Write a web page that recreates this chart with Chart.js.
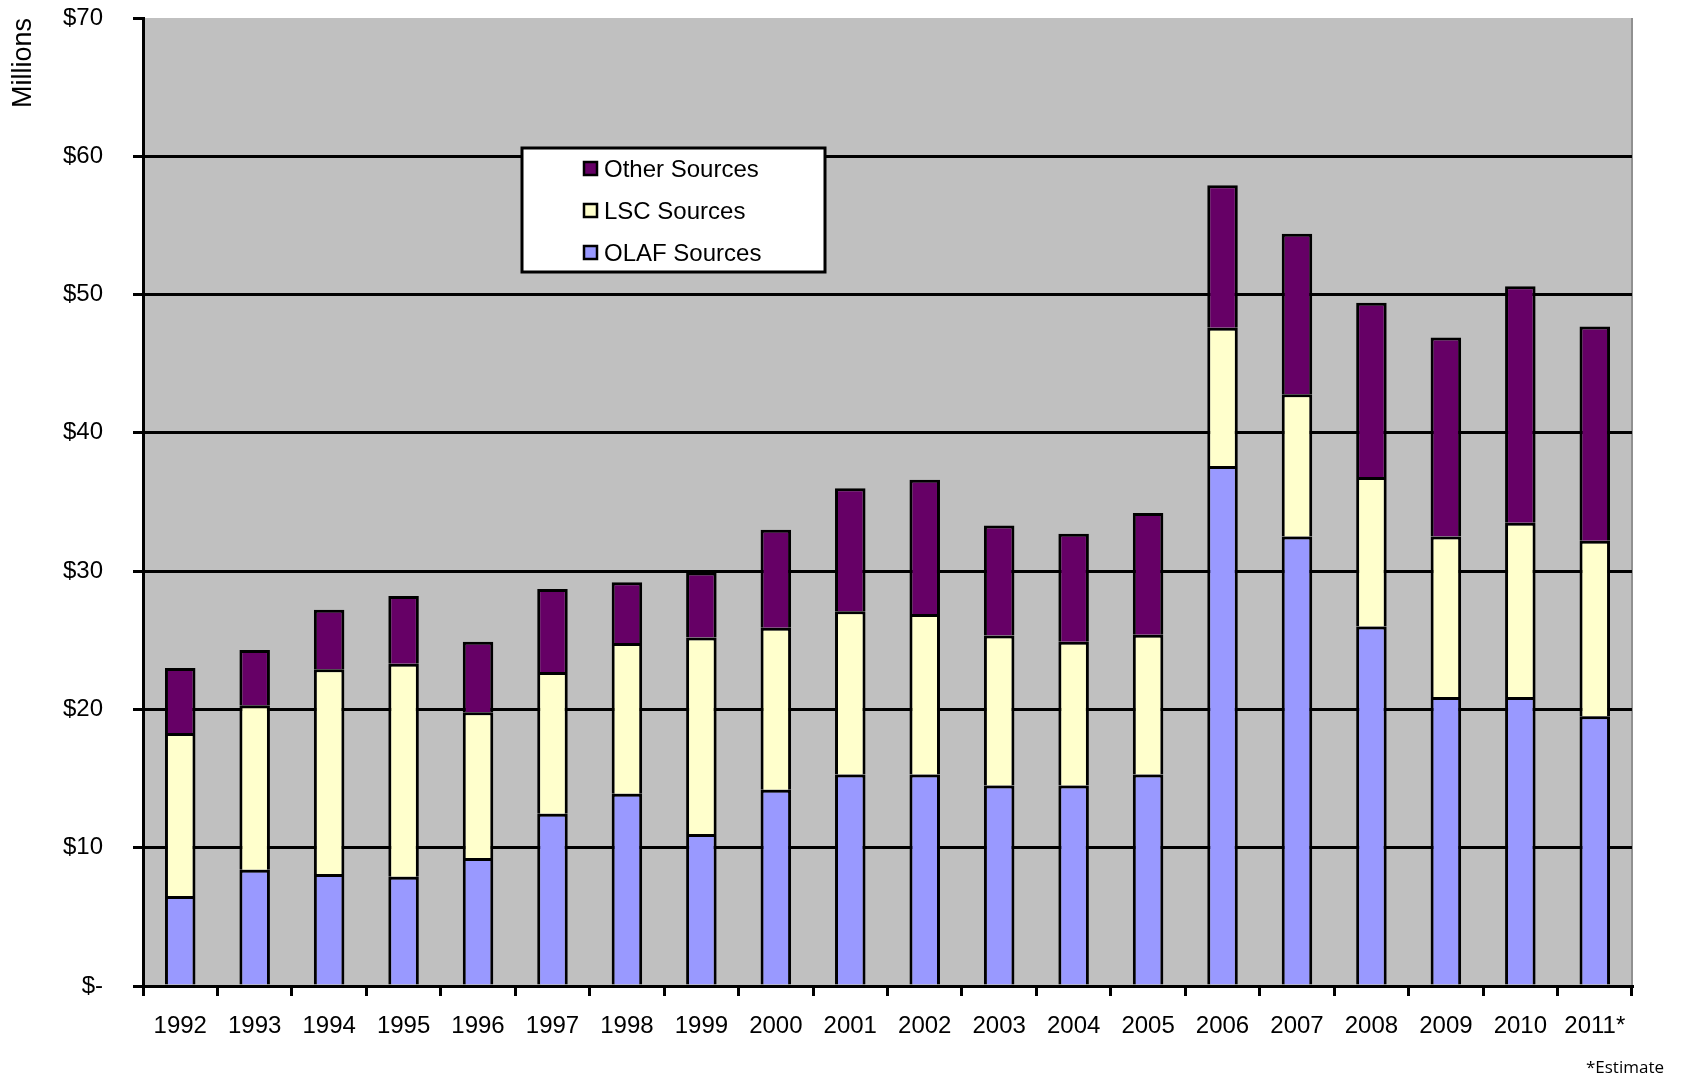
<!DOCTYPE html>
<html>
<head>
<meta charset="utf-8">
<script src="https://cdn.jsdelivr.net/npm/chart.js@4.4.0/dist/chart.umd.min.js"></script>
<style>
html, body { margin: 0; padding: 0; background: #fff; }
#wrap { width: 1683px; height: 1078px; position: relative; }
</style>
</head>
<body>
<div id="wrap"><canvas id="grafico"></canvas></div>
<script>
// years on the x axis
var years = ['1992', '1993', '1994', '1995', '1996', '1997', '1998', '1999', '2000', '2001',
             '2002', '2003', '2004', '2005', '2006', '2007', '2008', '2009', '2010', '2011*'];
// funding by source, millions of dollars (stacked segments)
var olafSources = [6.5, 8.4, 8.1, 7.9, 9.25, 12.45, 13.9, 11.0, 14.2, 15.3,
                   15.3, 14.5, 14.5, 15.3, 37.6, 32.5, 26.0, 20.9, 20.9, 19.5];
var lscSources = [11.8, 11.9, 14.8, 15.4, 10.55, 10.25, 10.9, 14.2, 11.7, 11.8,
                  11.6, 10.85, 10.4, 10.1, 10.0, 10.3, 10.8, 11.6, 12.6, 12.7];
var otherSources = [4.7, 4.0, 4.3, 4.9, 5.1, 6.0, 4.4, 4.7, 7.1, 8.9,
                    9.7, 7.95, 7.8, 8.8, 10.3, 11.6, 12.6, 14.4, 17.1, 15.5];

var fonte = 'Liberation Sans, Arial, sans-serif';

// gray plot background + thin right border
var fundoCinza = {
    id: 'fundoCinza',
    beforeDraw: function (chart) {
        var a = chart.chartArea, c = chart.ctx;
        c.save();
        c.fillStyle = '#c0c0c0';
        c.fillRect(a.left, a.top, a.right - a.left, a.bottom - a.top);
        c.strokeStyle = '#909090';
        c.lineWidth = 2;
        c.beginPath();
        c.moveTo(a.right, a.top);
        c.lineTo(a.right, a.bottom);
        c.stroke();
        c.restore();
    }
};

// legend box inside the plot, plus the footnote
var legendaCaixa = {
    id: 'legendaCaixa',
    afterDraw: function (chart) {
        var c = chart.ctx;
        var ds = chart.data.datasets.slice().reverse();
        c.save();
        c.fillStyle = '#fff';
        c.fillRect(522, 148, 303, 124);
        c.strokeStyle = '#000';
        c.lineWidth = 3;
        c.strokeRect(522, 148, 303, 124);
        c.font = '24px ' + fonte;
        c.textBaseline = 'middle';
        c.textAlign = 'left';
        for (var i = 0; i < ds.length; i++) {
            var y = 169 + i * 42;
            c.fillStyle = ds[i].backgroundColor;
            c.fillRect(584, y - 7, 13, 13);
            c.lineWidth = 2.5;
            c.strokeRect(584, y - 7, 13, 13);
            c.fillStyle = '#000';
            c.fillText(ds[i].label, 604, y + 1);
        }
        c.font = '17px "Open Sans", sans-serif';
        c.textAlign = 'right';
        c.textBaseline = 'alphabetic';
        c.fillText('*Estimate', 1664, 1073);
        c.restore();
    }
};

var ctx = document.getElementById('grafico');
var grafico = new Chart(ctx, {
    type: 'bar',
    data: {
        labels: years,
        datasets: [{
            label: 'OLAF Sources',
            data: olafSources,
            backgroundColor: '#9999ff'
        }, {
            label: 'LSC Sources',
            data: lscSources,
            backgroundColor: '#ffffcc'
        }, {
            label: 'Other Sources',
            data: otherSources,
            backgroundColor: '#660066'
        }]
    },
    options: {
        responsive: true,
        maintainAspectRatio: false,
        animation: false,
        layout: { padding: { top: 18, right: 51, left: 0, bottom: 0 } },
        datasets: {
            bar: {
                borderColor: '#000',
                borderWidth: 3,
                borderSkipped: 'start',
                categoryPercentage: 1,
                barPercentage: 0.41
            }
        },
        plugins: {
            legend: { display: false },
            tooltip: { enabled: false }
        },
        scales: {
            x: {
                stacked: true,
                afterFit: function (s) { s.height = 92; },
                border: { color: '#000', width: 3 },
                grid: {
                    offset: true,
                    drawOnChartArea: false,
                    color: '#000',
                    lineWidth: 3,
                    tickLength: 10
                },
                ticks: {
                    color: '#000',
                    padding: 16,
                    maxRotation: 0,
                    font: { family: fonte, size: 24 }
                }
            },
            y: {
                stacked: true,
                min: 0,
                max: 70,
                afterFit: function (s) {
                    s.width = 143;
                    s.paddingTop = 0;
                    s.paddingBottom = 0;
                },
                border: { color: '#000', width: 3 },
                grid: {
                    color: function (c) { return c.tick && c.tick.value === 70 ? 'rgba(0,0,0,0)' : '#000'; },
                    tickColor: '#000',
                    lineWidth: 3,
                    tickLength: 10
                },
                ticks: {
                    stepSize: 10,
                    color: '#000',
                    padding: 30,
                    font: { family: fonte, size: 24 },
                    callback: function (v) { return v === 0 ? '$-' : '$' + v; }
                },
                title: {
                    display: true,
                    text: 'Millions',
                    align: 'end',
                    color: '#000',
                    padding: { top: 7, bottom: 0 },
                    font: { family: fonte, size: 27 }
                }
            }
        }
    },
    plugins: [fundoCinza, legendaCaixa]
});
</script>
</body>
</html>
